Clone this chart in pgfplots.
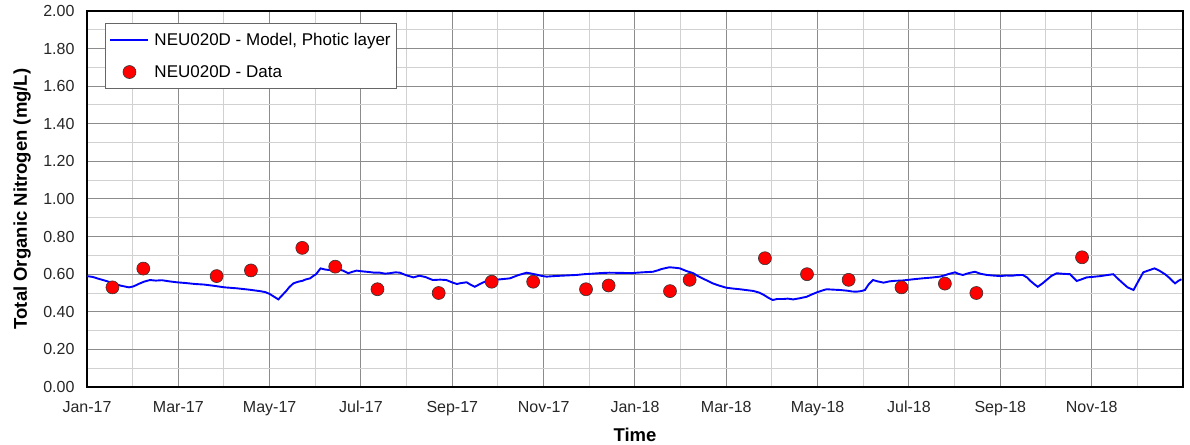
\documentclass[border=0pt]{standalone}
\usepackage{fontspec}
\setmainfont{Liberation Sans}
\usepackage{pgfplots}
\pgfplotsset{compat=1.18}
\definecolor{modelblue}{RGB}{0,0,255}
\definecolor{datared}{RGB}{255,0,0}
\pgfplotsset{
  mylinelegend/.style={legend image code/.code={\draw[draw=modelblue, line width=2pt] (0pt,0pt) -- (38pt,0pt);}},
  mymarklegend/.style={legend image code/.code={\draw[mark repeat=2,mark phase=2,##1] plot coordinates {(0pt,0pt) (19pt,0pt) (38pt,0pt)};}},
}
\begin{document}
\begin{tikzpicture}
\begin{axis}[
  scale only axis, width=1096pt, height=376pt,
  xmin=0, xmax=732, ymin=0, ymax=2,
  xtick={0,61,122,183,244,305,366,427,488,549,610,671},
  xticklabels={Jan-17,Mar-17,May-17,Jul-17,Sep-17,Nov-17,Jan-18,Mar-18,May-18,Jul-18,Sep-18,Nov-18},
  minor xtick={30.5,91.5,152.5,213.5,274.5,335.5,396.5,457.5,518.5,579.5,640.5,701.5},
  ytick={0,0.2,0.4,0.6,0.8,1.0,1.2,1.4,1.6,1.8,2.0},
  minor ytick={0.1,0.3,0.5,0.7,0.9,1.1,1.3,1.5,1.7,1.9},
  grid=both,
  major grid style={draw=black!45, line width=1pt},
  minor grid style={draw=black!18, line width=1pt},
  major tick length=0pt, minor tick length=0pt,
  axis line style={line width=2pt, black},
  tick label style={font=\fontsize{16}{18}\selectfont, text=black!85},
  xticklabel style={yshift=-10pt, text height=12pt, text depth=3pt},
  yticklabel style={xshift=-9pt, /pgf/number format/.cd, fixed, fixed zerofill, precision=2, assume math mode=true},
  xlabel={Time},
  ylabel={Total Organic Nitrogen (mg/L)},
  every axis x label/.style={at={(axis description cs:0.5,-0.1277)}, anchor=center, font=\bfseries\fontsize{18.5}{20}\selectfont},
  every axis y label/.style={at={(axis description cs:-0.0593,0.5)}, rotate=90, anchor=center, font=\bfseries\fontsize{18.5}{20}\selectfont},
  legend style={at={(axis description cs:0.0164,0.968)}, anchor=north west,
    draw=black!60, line width=1pt, fill=white, inner xsep=4pt, inner ysep=8pt,
    font=\fontsize{17}{19}\selectfont, row sep=14pt,
    /tikz/every odd column/.append style={column sep=3pt}},
  legend cell align=left,
]
\addplot[modelblue, line width=1.9pt, mylinelegend]
coordinates {
(0,0.590)(4,0.585)(8,0.575)(12,0.566)(17.6,0.552)(22,0.540)(28,0.530)(31,0.535)(35,0.550)(38,0.560)(42,0.569)(46,0.566)(50,0.568)(55,0.562)(60,0.557)
(66,0.553)(72,0.548)(78,0.545)(84,0.539)(92,0.530)(100,0.525)(108,0.518)(115.5,0.510)(119,0.505)(122,0.495)(125,0.480)(127.8,0.466)(130,0.485)(133,0.510)
(135,0.530)(137.8,0.551)(141,0.560)(144,0.565)(146,0.572)(149,0.578)(151,0.590)(153,0.600)(156,0.631)(159,0.625)(162,0.622)(165,0.630)(167,0.628)
(171,0.619)(174.5,0.605)(177,0.612)(180,0.619)(184,0.615)(188,0.612)(192,0.608)(195.7,0.608)(199,0.603)(202,0.605)(206,0.610)(209,0.608)
(213,0.595)(218,0.583)(222,0.592)(226,0.585)(231,0.569)(236,0.571)(240,0.569)(244,0.556)(247,0.548)(250,0.553)(253.6,0.557)
(256,0.545)(259,0.533)(263,0.550)(267,0.565)(271,0.568)(275,0.572)(279,0.575)(282.5,0.578)(288,0.595)(293.7,0.608)(297,0.603)(300,0.598)
(303,0.592)(307,0.587)(312,0.590)(317,0.592)(322,0.594)(327,0.596)(332,0.600)(338,0.603)(343,0.606)(349,0.608)(356,0.607)(364,0.606)(371,0.610)(378,0.613)
(381,0.620)(384,0.628)(389,0.637)(393,0.634)(396,0.631)(400,0.618)(405,0.605)(408,0.590)(411,0.578)(415,0.563)(418,0.551)(422,0.540)(427,0.528)
(431,0.524)(436,0.520)(440,0.516)(445,0.511)(449,0.502)(452,0.490)(455,0.475)(458,0.463)(461,0.468)(465,0.468)(468,0.470)(471.7,0.466)(476,0.472)(480.7,0.480)
(484,0.492)(488,0.505)(491,0.513)(494,0.520)(498,0.518)(503,0.516)(508,0.512)(511,0.508)(514,0.507)(517,0.510)(519.6,0.516)(522,0.545)(525,0.569)
(528,0.562)(532,0.555)(536,0.562)(540,0.565)(544,0.566)(547.5,0.569)(553,0.574)(558,0.578)(564,0.582)(569.7,0.587)(572,0.592)(575,0.600)(579.8,0.610)
(582,0.602)(585,0.596)(589,0.606)(593,0.613)(597,0.602)(601,0.596)(605,0.593)(610,0.590)(614,0.593)(618,0.592)(621,0.595)(625,0.596)(628,0.582)(630,0.565)
(633,0.545)(635,0.533)(638,0.550)(641,0.570)(644,0.590)(647.7,0.605)(652,0.602)(656.6,0.600)(659,0.580)(661,0.564)(664,0.572)(667.7,0.583)(672,0.586)(677,0.590)
(681,0.595)(685.5,0.600)(688,0.580)(692,0.551)(695,0.530)(699,0.516)(702,0.560)(705.5,0.610)(709,0.620)(713,0.631)(716,0.620)(720,0.600)(723,0.580)(726.7,0.551)(729,0.565)(731,0.573)
};
\addlegendentry{NEU020D - Model, Photic layer}
\addplot[only marks, mark=*, mark size=6.5pt,
  mark options={fill=datared, draw=black!80, line width=0.6pt}, mymarklegend]
coordinates {
(17,0.53)(37.6,0.63)(86.6,0.59)(109.5,0.62)(143.8,0.74)(165.8,0.64)(194,0.52)(234.9,0.50)
(270.3,0.56)(298,0.56)(333.3,0.52)(348.4,0.54)(389.4,0.51)(402.5,0.57)(452.8,0.685)
(480.9,0.60)(508.7,0.57)(544,0.53)(573,0.55)(594,0.50)(664.6,0.69)
};
\addlegendentry{NEU020D - Data}
\end{axis}
\pgfresetboundingbox
\path[use as bounding box] ([shift={(-87pt,-57pt)}]current axis.south west) rectangle ++(1190pt,444pt);
\end{tikzpicture}
\end{document}
